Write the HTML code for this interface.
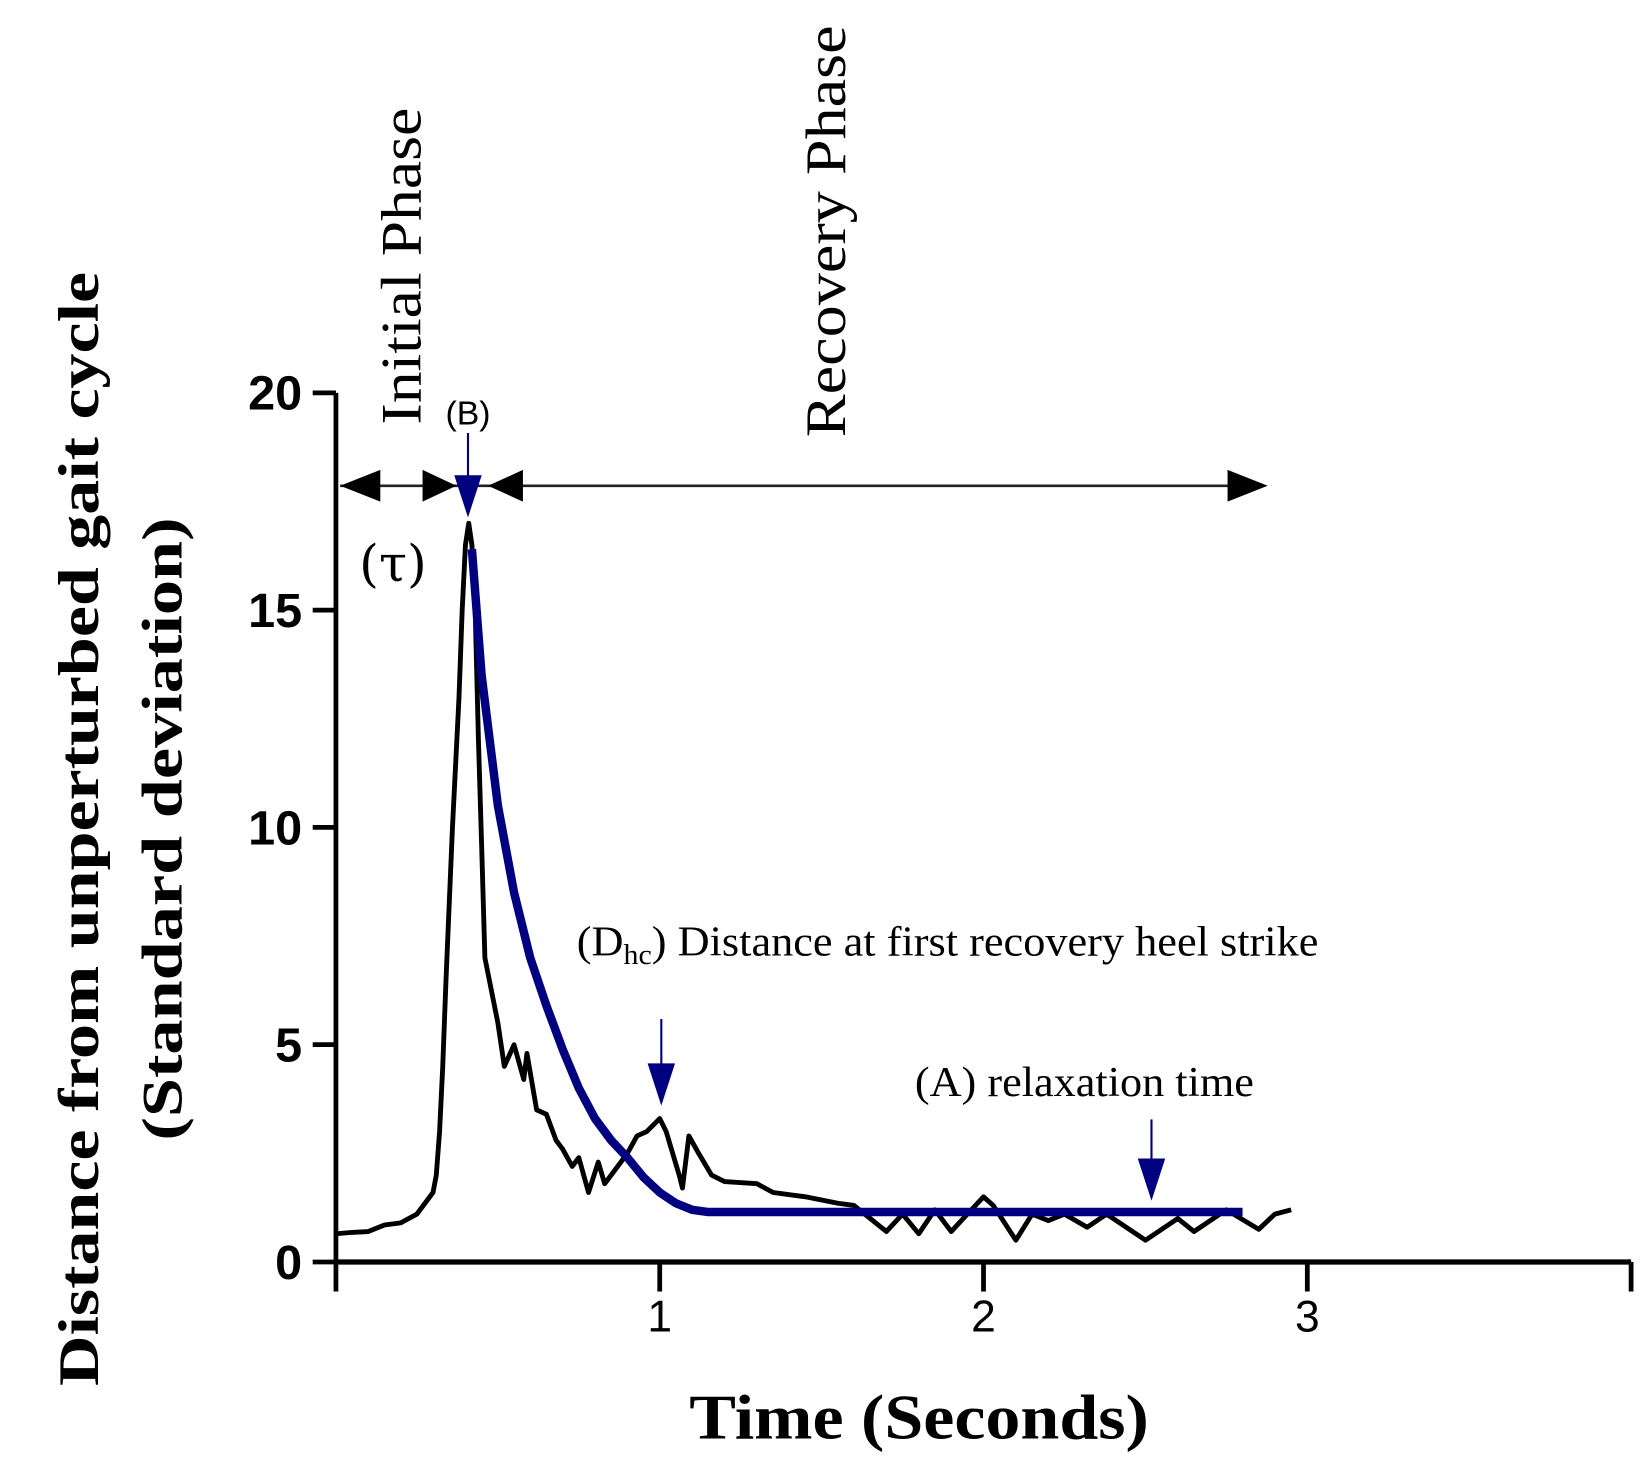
<!DOCTYPE html>
<html><head><meta charset="utf-8"><style>html,body{margin:0;padding:0;background:#fff}svg{display:block}</style></head>
<body>
<svg id="chart" width="1648" height="1470" viewBox="0 0 1560 1392" preserveAspectRatio="none" xmlns="http://www.w3.org/2000/svg">
<g id="plot"></g>
</svg>
<script>
const blackT = [0,0.05,0.1,0.15,0.2,0.25,0.28,0.3,0.31,0.32,0.33,0.34,0.36,0.38,0.39,0.4,0.41,0.42,0.43,0.44,0.45,0.46,0.5,0.52,0.55,0.58,0.59,0.62,0.65,0.68,0.7,0.73,0.75,0.78,0.81,0.83,0.87,0.9,0.93,0.96,1.0,1.02,1.06,1.07,1.09,1.12,1.16,1.2,1.3,1.35,1.45,1.55,1.6,1.65,1.7,1.75,1.8,1.85,1.9,1.95,2.0,2.03,2.1,2.15,2.2,2.25,2.32,2.38,2.5,2.6,2.65,2.75,2.85,2.9,2.95];
const blackV = [0.65,0.68,0.7,0.85,0.9,1.1,1.4,1.6,2.0,3.0,4.5,6.5,10,13,15,16.5,17,16.5,15,12,9.6,7.0,5.5,4.5,5.0,4.2,4.8,3.5,3.4,2.8,2.6,2.2,2.4,1.6,2.3,1.8,2.2,2.5,2.9,3.0,3.3,3.0,2.0,1.7,2.9,2.5,2.0,1.85,1.8,1.6,1.5,1.35,1.3,1.0,0.7,1.1,0.65,1.2,0.7,1.1,1.5,1.3,0.5,1.1,0.95,1.1,0.8,1.1,0.5,1.0,0.7,1.2,0.75,1.1,1.2];
const fitT = [0.42,0.45,0.5,0.55,0.6,0.65,0.7,0.75,0.8,0.85,0.9,0.95,1.0,1.05,1.1,1.15,1.2,2.8];
const fitV = [16.4,13.5,10.5,8.5,7.0,5.9,4.9,4.0,3.3,2.8,2.4,1.95,1.6,1.35,1.2,1.15,1.15,1.15];
const yTicks = [0,5,10,15,20];
const xTicks = [1,2,3];

const X0=318, XU=306.5, Y0=1195, YU=41.15;
function sx(t){return X0+t*XU;}
function sy(v){return Y0-v*YU;}
const NS="http://www.w3.org/2000/svg";
const g=document.getElementById('plot');
function mk(tag,attrs,parent){const e=document.createElementNS(NS,tag);for(const k in attrs)e.setAttribute(k,attrs[k]);(parent||g).appendChild(e);return e;}
function txt(s,attrs){const e=mk('text',attrs);e.textContent=s;return e;}

let e;
e=mk('line',{x1:X0,y1:sy(20),x2:X0,y2:Y0+28,stroke:'#000','stroke-width':4.5});


e=mk('line',{x1:X0-2,y1:Y0,x2:sx(4),y2:Y0,stroke:'#000','stroke-width':5});


e=mk('line',{x1:sx(4),y1:Y0,x2:sx(4),y2:Y0+28,stroke:'#000','stroke-width':4.5});


yTicks.forEach(v=>{
  const l=mk('line',{x1:X0-22,y1:sy(v),x2:X0,y2:sy(v),stroke:'#000','stroke-width':4.5});
  
  
  const t=txt(String(v),{x:X0-32,y:sy(v)+16,'text-anchor':'end','font-family':'Liberation Sans, sans-serif','font-weight':'bold','font-size':46});
  
  
});
xTicks.forEach(v=>{
  const l=mk('line',{x1:sx(v),y1:Y0,x2:sx(v),y2:Y0+28,stroke:'#000','stroke-width':4.5});
  
  
  const t=txt(String(v),{x:sx(v),y:Y0+66,'text-anchor':'middle','font-family':'Liberation Sans, sans-serif','font-size':42});
  
  
});

let d=blackT.map((t,i)=>(i?'L':'M')+sx(t).toFixed(1)+','+sy(blackV[i]).toFixed(1)).join('');
e=mk('path',{d:d,fill:'none',stroke:'#000','stroke-width':4.6,'stroke-linejoin':'round'});


d=fitT.map((t,i)=>(i?'L':'M')+sx(t).toFixed(1)+','+sy(fitV[i]).toFixed(1)).join('');
e=mk('path',{d:d,fill:'none',stroke:'#000080','stroke-width':8,'stroke-linejoin':'round'});



const AY=460;
e=mk('line',{x1:322,y1:AY,x2:1170,y2:AY,stroke:'#222','stroke-width':2.5});


e=mk('polygon',{points:`322,${AY} 360,${AY-15} 360,${AY+15}`,fill:'#000'});


e=mk('polygon',{points:`432,${AY} 400,${AY-15} 400,${AY+15}`,fill:'#000'});


e=mk('polygon',{points:`462,${AY} 495,${AY-15} 495,${AY+15}`,fill:'#000'});


e=mk('polygon',{points:`1200,${AY} 1162,${AY-15} 1162,${AY+15}`,fill:'#000'});



function barrow(x,y1,y2,name){
  const a=mk('line',{x1:x,y1:y1,x2:x,y2:y2-30,stroke:'#000080','stroke-width':2});
  
  
  const p=mk('polygon',{points:`${x-13},${y2-40} ${x+13},${y2-40} ${x},${y2}`,fill:'#000080'});
  
  
}
barrow(443,410,490,'peak-arrow');
barrow(626,965,1047,'heel-strike-arrow');
barrow(1090,1060,1137,'relaxation-arrow');

const serif='Liberation Serif, serif';
e=txt('Initial Phase',{x:0,y:0,transform:'translate(398,402) rotate(-90)','font-family':serif,'font-size':54,textLength:300,lengthAdjust:'spacingAndGlyphs'});


e=txt('Recovery Phase',{x:0,y:0,transform:'translate(800,414) rotate(-90)','font-family':serif,'font-size':54,textLength:390,lengthAdjust:'spacingAndGlyphs'});


e=txt('(B)',{x:443,y:402,'text-anchor':'middle','font-family':'Liberation Sans, sans-serif','font-size':32});


e=txt('(τ)',{x:372,y:550,'text-anchor':'middle','font-family':'DejaVu Serif, serif','font-size':48});


e=mk('text',{x:546,y:905,'font-family':serif,'font-size':40,textLength:702,lengthAdjust:'spacingAndGlyphs'});
e.innerHTML='(D<tspan font-size="27" dy="8">hc</tspan><tspan dy="-8">) Distance at first recovery heel strike</tspan>';


e=txt('(A) relaxation time',{x:866,y:1038,'font-family':serif,'font-size':40,textLength:321,lengthAdjust:'spacingAndGlyphs'});


e=txt('Time (Seconds)',{x:870,y:1362,'text-anchor':'middle','font-family':serif,'font-weight':'bold','font-size':60,textLength:435,lengthAdjust:'spacingAndGlyphs'});


e=txt('Distance from unperturbed gait cycle',{x:0,y:0,transform:'translate(93,785) rotate(-90)','text-anchor':'middle','font-family':serif,'font-weight':'bold','font-size':54,textLength:1055,lengthAdjust:'spacingAndGlyphs'});


e=txt('(Standard deviation)',{x:0,y:0,transform:'translate(172,785) rotate(-90)','text-anchor':'middle','font-family':serif,'font-weight':'bold','font-size':54,textLength:590,lengthAdjust:'spacingAndGlyphs'});


</script>
</body></html>
